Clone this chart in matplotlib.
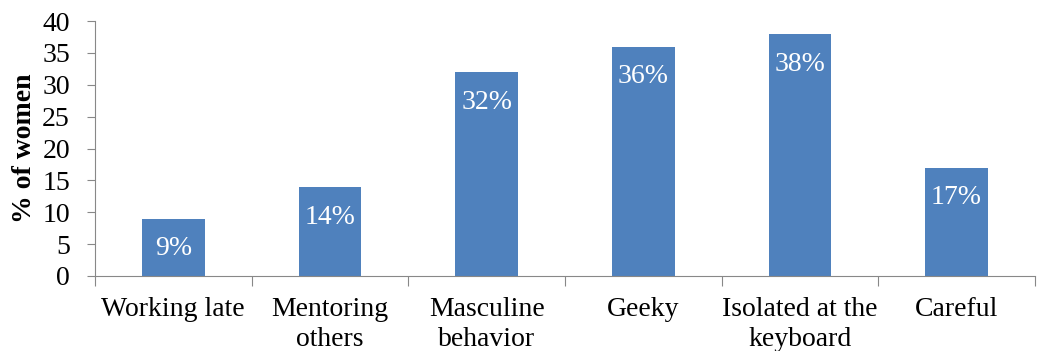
import matplotlib.pyplot as plt
import numpy as np

categories = ["Working late", "Mentoring\nothers", "Masculine\nbehavior", "Geeky",
              "Isolated at the\nkeyboard", "Careful"]
values = [9, 14, 32, 36, 38, 17]
labels = ["9%", "14%", "32%", "36%", "38%", "17%"]

plt.rcParams['font.family'] = ['Liberation Serif', 'DejaVu Serif']

fig = plt.figure(figsize=(10.39, 3.51), dpi=100)
ax = fig.add_axes([0.0914, 0.2137, 0.9046, 0.7263])

x = np.arange(len(categories))
bars = ax.bar(x, values, width=0.4, color='#4F81BD', zorder=2)

for b, lab in zip(bars, labels):
    ax.text(b.get_x() + b.get_width() / 2, b.get_height() - 2.8, lab,
            ha='center', va='top', color='white', fontsize=20)

ax.set_xlim(-0.5, len(categories) - 0.5)
ax.set_ylim(0, 40)
ax.set_yticks(range(0, 41, 5))
ax.tick_params(axis='y', labelsize=20, length=6, color='#888888', pad=12)

# tick marks between categories, labels at centres
ax.set_xticks(np.arange(-0.5, len(categories), 1))
ax.set_xticklabels([])
ax.tick_params(axis='x', which='major', length=7, color='#888888')
ax.set_xticks(x, minor=True)
ax.set_xticklabels(categories, minor=True, fontsize=20, linespacing=1.25)
ax.tick_params(axis='x', which='minor', length=0, pad=15)

for s in ['top', 'right']:
    ax.spines[s].set_visible(False)
for s in ['left', 'bottom']:
    ax.spines[s].set_color('#888888')

ax.set_ylabel("% of women", fontsize=20, fontweight='bold', labelpad=4)

fig.savefig("out.png", dpi=100)
